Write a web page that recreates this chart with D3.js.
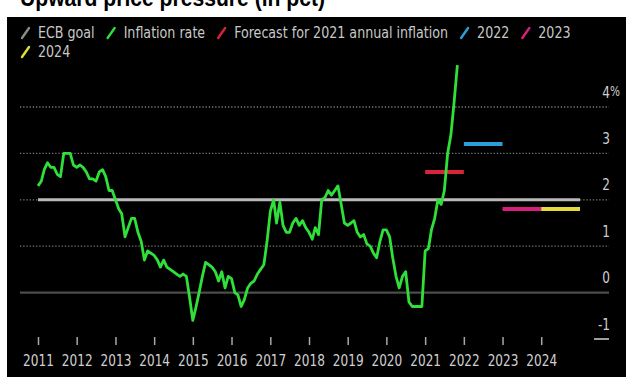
<!DOCTYPE html>
<html>
<head>
<meta charset="utf-8">
<script src="https://cdn.jsdelivr.net/npm/d3@7"></script>
<style>
  html, body { margin: 0; padding: 0; background: #fff; overflow: hidden; }
  svg { display: block; }
  text { font-family: "DejaVu Sans Condensed", "Liberation Sans", sans-serif; }
</style>
</head>
<body>
<svg id="chart" width="626" height="377"></svg>
<script>
// Euro-area annual inflation, monthly from January 2011 to November 2021 (%)
const firstMonth = [2011, 0];
const inflation = [
  2.3, 2.4, 2.65, 2.8, 2.7, 2.7, 2.55, 2.5, 3.0, 3.0, 3.0, 2.75,      // 2011
  2.7, 2.75, 2.7, 2.6, 2.45, 2.45, 2.4, 2.6, 2.65, 2.5, 2.2, 2.2,     // 2012
  2.0, 1.8, 1.7, 1.2, 1.4, 1.6, 1.6, 1.3, 1.1, 0.7, 0.9, 0.85,        // 2013
  0.8, 0.7, 0.55, 0.7, 0.55, 0.5, 0.45, 0.4, 0.35, 0.4, 0.35, -0.1,   // 2014
  -0.6, -0.3, 0.0, 0.35, 0.65, 0.6, 0.55, 0.45, 0.25, 0.45, 0.1, 0.35,// 2015
  0.3, 0.0, -0.05, -0.3, -0.15, 0.1, 0.2, 0.25, 0.4, 0.5, 0.6, 1.1,   // 2016
  1.75, 2.0, 1.5, 1.95, 1.45, 1.3, 1.3, 1.5, 1.6, 1.45, 1.55, 1.4,    // 2017
  1.3, 1.15, 1.4, 1.25, 2.0, 2.05, 2.2, 2.1, 2.2, 2.3, 1.9, 1.5,      // 2018
  1.45, 1.5, 1.55, 1.3, 1.2, 1.25, 1.05, 1.0, 0.85, 0.75, 1.1, 1.35,  // 2019
  1.35, 1.2, 0.75, 0.35, 0.1, 0.35, 0.45, -0.2, -0.3, -0.3, -0.3, -0.3, // 2020
  0.9, 0.95, 1.35, 1.6, 2.0, 1.9, 2.2, 3.0, 3.4, 4.1, 4.9             // 2021
];

// ECB staff projections for annual inflation
const forecastYears = [2021, 2022, 2023, 2024];
const forecastValues = [2.6, 3.2, 1.8, 1.8];
const forecastColors = ["#d8233a", "#2b9fda", "#d81f7d", "#e3dc36"];

const ecbGoal = 2;
const axisYears = [2011, 2012, 2013, 2014, 2015, 2016, 2017, 2018, 2019, 2020, 2021, 2022, 2023, 2024];
const yTicks = [-1, 0, 1, 2, 3, 4];
const gridValues = [1, 2, 3, 4];

const legendItems = [
  { label: "ECB goal", color: "#8a8a8a", row: 0 },
  { label: "Inflation rate", color: "#2fdc3a", row: 0 },
  { label: "Forecast for 2021 annual inflation", color: forecastColors[0], row: 0 },
  { label: "2022", color: forecastColors[1], row: 0 },
  { label: "2023", color: forecastColors[2], row: 0 },
  { label: "2024", color: forecastColors[3], row: 1 }
];

const svg = d3.select("#chart");

// Narrow lettering: glyphs are squeezed horizontally to a share of their natural width
function squeeze(sel, share) {
  sel.each(function () {
    const len = this.getComputedTextLength();
    this.__squeezed = len * share;
    d3.select(this)
      .attr("textLength", this.__squeezed)
      .attr("lengthAdjust", "spacingAndGlyphs");
  });
}

// Headline above the dark panel
svg.append("text")
  .attr("x", 20).attr("y", 6)
  .attr("fill", "#000")
  .attr("textLength", 305)
  .attr("lengthAdjust", "spacingAndGlyphs")
  .style("font-family", "'Liberation Sans', Arial, sans-serif")
  .style("font-weight", "bold")
  .style("font-size", "24px")
  .text("Upward price pressure (in pct)");

// Dark panel
svg.append("rect")
  .attr("x", 7).attr("y", 17)
  .attr("width", 619).attr("height", 360)
  .attr("fill", "#000");

const x = d3.scaleTime()
  .domain([new Date(2011, 0, 1), new Date(2025, 0, 1)])
  .range([38, 580]);
const y = d3.scaleLinear()
  .domain([-1, 4])
  .range([339, 107]);

const gridLeft = 20, gridRight = 609;

// Dotted gridlines
svg.append("g").selectAll("line")
  .data(gridValues)
  .join("line")
  .attr("x1", gridLeft).attr("x2", gridRight)
  .attr("y1", d => y(d)).attr("y2", d => y(d))
  .attr("stroke", "#7a7a7a")
  .attr("stroke-width", 1.3)
  .attr("stroke-dasharray", "1.3,1.9");

// Zero line
svg.append("line")
  .attr("x1", gridLeft).attr("x2", gridRight)
  .attr("y1", y(0)).attr("y2", y(0))
  .attr("stroke", "#4c4c4c")
  .attr("stroke-width", 2.2);

// Short baseline mark at the bottom of the value axis
svg.append("line")
  .attr("x1", 594).attr("x2", gridRight)
  .attr("y1", y(-1)).attr("y2", y(-1))
  .attr("stroke", "#b0b0b0")
  .attr("stroke-width", 1.8);

// Right-hand value labels, sitting above their gridlines
const yAxis = svg.append("g")
  .attr("transform", `translate(${610},0)`)
  .call(d3.axisLeft(y).tickValues(yTicks).tickSize(0).tickPadding(0).tickFormat(d => String(d)));
yAxis.select(".domain").remove();
yAxis.selectAll("text")
  .attr("y", -15)
  .attr("fill", "#cfcfcf")
  .style("font-size", "16px")
  .call(squeeze, 0.84);
svg.append("text")
  .attr("x", 610).attr("y", y(4) - 15)
  .attr("dy", "0.32em")
  .attr("fill", "#cfcfcf")
  .style("font-size", "14px")
  .text("%")
  .call(squeeze, 0.84);

// Year axis
const xAxis = svg.append("g")
  .attr("transform", `translate(0,${337})`)
  .call(d3.axisBottom(x)
    .tickValues(axisYears.map(yr => new Date(yr, 0, 1)))
    .tickSize(8).tickPadding(10)
    .tickFormat(d3.timeFormat("%Y")));
xAxis.select(".domain").remove();
xAxis.selectAll(".tick line").attr("stroke", "#a8a8a8").attr("stroke-width", 1.5);
xAxis.selectAll("text")
  .attr("fill", "#d0d0d0")
  .style("font-size", "16px")
  .call(squeeze, 0.84);

// ECB 2% goal
svg.append("line")
  .attr("x1", x(new Date(2011, 0, 1))).attr("x2", x(new Date(2025, 0, 1)))
  .attr("y1", y(ecbGoal)).attr("y2", y(ecbGoal))
  .attr("stroke", "#b8b8b8")
  .attr("stroke-width", 3);

// Projection bars, one per calendar year
svg.append("g").selectAll("line")
  .data(forecastYears.map((yr, i) => ({ yr, v: forecastValues[i], c: forecastColors[i] })))
  .join("line")
  .attr("x1", d => x(new Date(d.yr, 0, 1)))
  .attr("x2", d => x(new Date(d.yr + 1, 0, 1)))
  .attr("y1", d => y(d.v)).attr("y2", d => y(d.v))
  .attr("stroke", d => d.c)
  .attr("stroke-width", 4);

// Inflation line
const monthly = inflation.map((v, i) => ({ date: new Date(firstMonth[0], firstMonth[1] + i, 1), v }));
svg.append("path")
  .datum(monthly)
  .attr("fill", "none")
  .attr("stroke", "#2fe03a")
  .attr("stroke-width", 2.8)
  .attr("stroke-linejoin", "round")
  .attr("d", d3.line().x(d => x(d.date)).y(d => y(d.v)));

// Legend
const legend = svg.append("g");
const rowBaselines = [38, 57];
const cursor = [22, 22];
legendItems.forEach(item => {
  const r = item.row;
  const base = rowBaselines[r];
  const x0 = cursor[r];
  legend.append("line")
    .attr("x1", x0).attr("y1", base)
    .attr("x2", x0 + 7).attr("y2", base - 10)
    .attr("stroke", item.color)
    .attr("stroke-width", 2.4)
    .attr("stroke-linecap", "round");
  const t = legend.append("text")
    .attr("x", x0 + 16).attr("y", base)
    .attr("fill", "#c8c8c8")
    .style("font-size", "16px")
    .text(item.label)
    .call(squeeze, 0.88);
  cursor[r] = x0 + 16 + t.node().__squeezed + 13;
});
</script>
</body>
</html>
